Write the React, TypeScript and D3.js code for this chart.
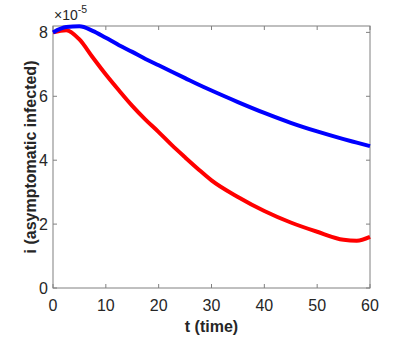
import React, { useEffect, useRef } from 'react';
import * as d3 from 'd3';

const tValues = [0, 2.5, 5, 7.5, 10, 12.5, 15, 17.5, 20, 22.5, 25, 27.5, 30, 35, 40, 45, 50, 55, 57.5, 60];
const blueValues = [8.0, 8.17, 8.19, 8.05, 7.83, 7.6, 7.39, 7.17, 6.97, 6.77, 6.57, 6.37, 6.18, 5.82, 5.48, 5.17, 4.9, 4.66, 4.55, 4.44];
const redValues = [8.0, 8.07, 7.78, 7.22, 6.68, 6.18, 5.7, 5.27, 4.88, 4.47, 4.09, 3.72, 3.37, 2.85, 2.41, 2.05, 1.76, 1.51, 1.48, 1.6];
const xTicks = [0, 10, 20, 30, 40, 50, 60];
const yTicks = [0, 2, 4, 6, 8];

const App = () => {
  const svgRef = useRef<SVGSVGElement>(null);

  useEffect(() => {
    drawChart();
  }, []);

  function drawChart() {
    const svg = d3.select(svgRef.current);
    svg.selectAll('*').remove();
    const left = 53, right = 370, top = 26, bottom = 288;
    const font = '"Liberation Sans", Arial, sans-serif';
    const axisColor = '#808080';
    const textColor = '#262626';

    const x = d3.scaleLinear().domain([0, 60]).range([left, right]);
    const y = d3.scaleLinear().domain([0, 8.2]).range([bottom, top]);

    // box
    svg.append('rect')
      .attr('x', left).attr('y', top)
      .attr('width', right - left).attr('height', bottom - top)
      .attr('fill', 'none').attr('stroke', axisColor).attr('stroke-width', 1);

    // ticks on all sides, pointing inward
    const tickLen = 4;
    xTicks.forEach(t => {
      const px = x(t);
      svg.append('line').attr('x1', px).attr('x2', px).attr('y1', bottom).attr('y2', bottom - tickLen)
        .attr('stroke', axisColor);
      svg.append('line').attr('x1', px).attr('x2', px).attr('y1', top).attr('y2', top + tickLen)
        .attr('stroke', axisColor);
      svg.append('text').attr('x', px).attr('y', 311)
        .attr('text-anchor', 'middle').attr('font-family', font).attr('font-size', 16)
        .attr('fill', textColor).text(t);
    });
    yTicks.forEach(v => {
      const py = y(v);
      svg.append('line').attr('x1', left).attr('x2', left + tickLen).attr('y1', py).attr('y2', py)
        .attr('stroke', axisColor);
      svg.append('line').attr('x1', right).attr('x2', right - tickLen).attr('y1', py).attr('y2', py)
        .attr('stroke', axisColor);
      svg.append('text').attr('x', 48).attr('y', py).attr('dy', '0.36em')
        .attr('text-anchor', 'end').attr('font-family', font).attr('font-size', 16)
        .attr('fill', textColor).text(v);
    });

    // exponent
    const expo = svg.append('text').attr('x', 54).attr('y', 20)
      .attr('font-family', font).attr('font-size', 14).attr('fill', textColor);
    expo.append('tspan').text('\u00d710');
    expo.append('tspan').attr('font-size', 10.5).attr('dy', -7).text('-5');

    // labels
    svg.append('text').attr('x', (left + right) / 2).attr('y', 332)
      .attr('text-anchor', 'middle').attr('font-family', font).attr('font-size', 16)
      .attr('font-weight', 'bold').attr('fill', textColor).text('t (time)');
    svg.append('text')
      .attr('transform', `translate(36, ${(top + bottom) / 2}) rotate(-90)`)
      .attr('text-anchor', 'middle').attr('font-family', font).attr('font-size', 16)
      .attr('font-weight', 'bold').attr('fill', textColor).text('i (asymptomatic infected)');

    const line = d3.line<number>()
      .x((_, i) => x(tValues[i]))
      .y(d => y(d))
      .curve(d3.curveMonotoneX);

    svg.append('path').datum(redValues).attr('d', line)
      .attr('fill', 'none').attr('stroke', '#ff0000').attr('stroke-width', 4);
    svg.append('path').datum(blueValues).attr('d', line)
      .attr('fill', 'none').attr('stroke', '#0000ff').attr('stroke-width', 4);
  }

  return (
    <svg ref={svgRef} width={409} height={354}
      style={{ position: 'absolute', left: 0, top: 0, background: '#fff' }} />
  );
};

export default App;
